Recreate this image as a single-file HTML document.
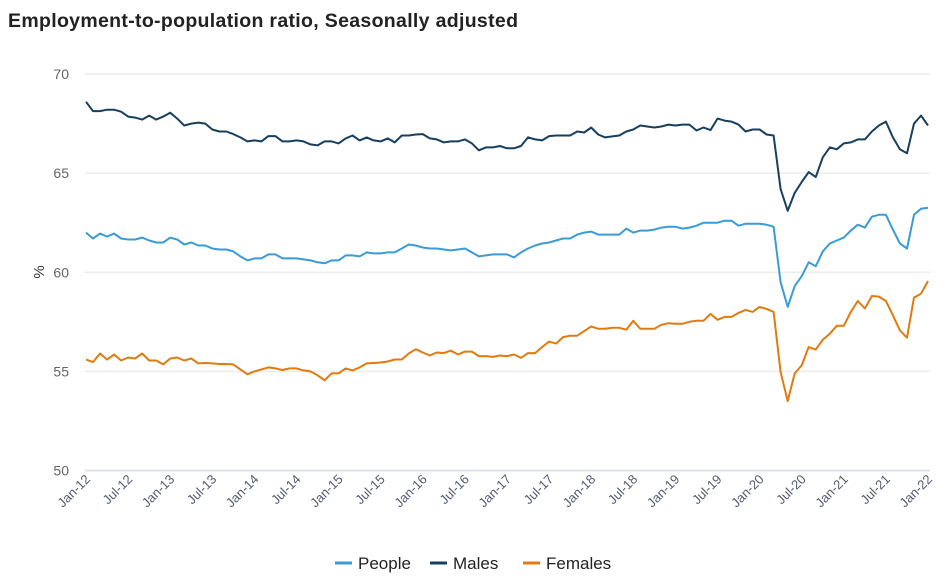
<!DOCTYPE html>
<html><head><meta charset="utf-8"><style>
body{margin:0;background:#fff;font-family:"Liberation Sans",sans-serif;}
#wrap{position:relative;width:950px;height:588px;overflow:hidden;}
</style></head><body><div id="wrap">
<svg id="chart" width="950" height="588"></svg>
</div>
<script>
const months=[];
const tickLabels=["Jan-12","Jul-12","Jan-13","Jul-13","Jan-14","Jul-14","Jan-15","Jul-15","Jan-16","Jul-16","Jan-17","Jul-17","Jan-18","Jul-18","Jan-19","Jul-19","Jan-20","Jul-20","Jan-21","Jul-21","Jan-22"];
const yTicks=[50,55,60,65,70];
const males=[68.6,68.13,68.13,68.2,68.2,68.1,67.85,67.8,67.7,67.9,67.7,67.85,
68.05,67.75,67.4,67.5,67.55,67.5,67.2,67.1,67.1,66.97,66.8,66.6,
66.65,66.6,66.87,66.87,66.6,66.6,66.65,66.6,66.45,66.4,66.6,66.6,
66.5,66.75,66.9,66.65,66.8,66.65,66.6,66.75,66.55,66.9,66.9,66.95,
66.97,66.75,66.7,66.55,66.6,66.6,66.7,66.5,66.15,66.3,66.3,66.37,
66.25,66.25,66.37,66.8,66.7,66.65,66.87,66.9,66.9,66.9,67.1,67.05,
67.3,66.95,66.8,66.85,66.9,67.1,67.2,67.4,67.35,67.3,67.35,67.45,
67.4,67.45,67.45,67.15,67.3,67.17,67.75,67.65,67.6,67.45,67.1,67.2,
67.2,66.95,66.9,64.2,63.1,64.0,64.55,65.05,64.8,65.8,66.3,66.2,
66.5,66.55,66.7,66.7,67.1,67.4,67.6,66.8,66.2,66.0,67.5,67.9,67.4];
const people=[62.0,61.7,61.95,61.8,61.95,61.7,61.65,61.65,61.75,61.6,61.5,61.5,
61.75,61.65,61.4,61.5,61.35,61.35,61.2,61.15,61.15,61.05,60.8,60.6,
60.7,60.7,60.9,60.9,60.7,60.7,60.7,60.65,60.6,60.5,60.45,60.6,
60.6,60.85,60.85,60.8,61.0,60.95,60.95,61.0,61.0,61.2,61.4,61.35,
61.25,61.2,61.2,61.15,61.1,61.15,61.2,61.0,60.8,60.85,60.9,60.9,
60.9,60.75,61.0,61.2,61.35,61.45,61.5,61.6,61.7,61.7,61.9,62.0,
62.05,61.9,61.9,61.9,61.9,62.2,62.0,62.1,62.1,62.15,62.25,62.3,
62.3,62.2,62.25,62.35,62.5,62.5,62.5,62.6,62.6,62.35,62.45,62.45,
62.45,62.4,62.3,59.5,58.25,59.3,59.8,60.5,60.3,61.05,61.45,61.6,
61.75,62.1,62.4,62.25,62.8,62.9,62.9,62.15,61.45,61.2,62.9,63.2,63.25];
const females=[55.6,55.47,55.9,55.6,55.85,55.55,55.7,55.65,55.9,55.55,55.55,55.35,
55.65,55.7,55.55,55.65,55.4,55.42,55.4,55.37,55.37,55.35,55.1,54.85,
55.0,55.1,55.2,55.15,55.07,55.15,55.15,55.05,55.0,54.8,54.55,54.9,
54.9,55.15,55.05,55.2,55.4,55.42,55.45,55.5,55.6,55.6,55.9,56.12,
55.95,55.8,55.95,55.92,56.05,55.85,56.0,56.0,55.77,55.77,55.73,55.8,
55.77,55.85,55.68,55.92,55.92,56.23,56.5,56.4,56.73,56.8,56.8,57.03,
57.27,57.15,57.15,57.2,57.2,57.1,57.55,57.15,57.15,57.15,57.35,57.43,
57.4,57.4,57.5,57.55,57.55,57.9,57.6,57.75,57.75,57.95,58.1,58.0,
58.25,58.15,58.0,54.97,53.5,54.9,55.3,56.23,56.1,56.6,56.9,57.3,
57.3,58.0,58.55,58.17,58.8,58.77,58.55,57.83,57.07,56.7,58.72,58.92,59.56];
for(let i=0;i<males.length;i++)months.push(i);

const NS="http://www.w3.org/2000/svg";
const svg=document.getElementById('chart');
const X0=86,X1=928,Y0=470.5,Y1=74;
const xs=i=>X0+(X1-X0)*i/(months.length-1);
const ys=v=>Y0-(Y0-Y1)*(v-50)/20;
function mk(t,a,p){const e=document.createElementNS(NS,t);for(const k in a)e.setAttribute(k,a[k]);(p||svg).appendChild(e);return e;}

let t=mk('text',{x:8,y:27,'font-size':19.5,fill:'#222','font-weight':'bold',textLength:510});


t.textContent='Employment-to-population ratio, Seasonally adjusted';

t=mk('text',{x:38,y:278,'font-size':15,fill:'#333','text-anchor':'middle',transform:'rotate(-90 38 272)'});


t.textContent='%';

yTicks.forEach(v=>{
 const g=mk('line',{x1:85,x2:930,y1:ys(v),y2:ys(v),stroke:v===50?'#dde0ee':'#ececec','stroke-width':v===50?2:1.5});
 
 
 const l=mk('text',{x:69,y:ys(v)+5,'font-size':14,fill:'#666','text-anchor':'end'});
 
 
 l.textContent=v;
});
tickLabels.forEach((s,k)=>{
 const x=xs(k*6),y=480;
 const l=mk('text',{x:x+5,y:y,'font-size':13,fill:'#555a70','text-anchor':'end',transform:`rotate(-45 ${x+5} ${y})`});
 
 
 l.textContent=s;
});
const series=[['people',people,'#3a9bd5'],['males',males,'#173f5f'],['females',females,'#e07b10']];
series.forEach(([n,d,c])=>{
 const p=mk('path',{d:d.map((v,i)=>(i?'L':'M')+xs(i).toFixed(1)+','+ys(v).toFixed(1)).join(''),fill:'none',stroke:c,'stroke-width':2,'stroke-linejoin':'round'});
 
 
});
const leg=[['People',335,'#3a9bd5'],['Males',430,'#173f5f'],['Females',523,'#e07b10']];
leg.forEach(([n,x,c])=>{
 const g=mk('g',{});
 
 
 mk('line',{x1:x,x2:x+17,y1:563,y2:563,stroke:c,'stroke-width':3},g);
 const l=mk('text',{x:x+23,y:569,'font-size':17,fill:'#222'},g);
 l.textContent=n;
});
</script></body></html>
